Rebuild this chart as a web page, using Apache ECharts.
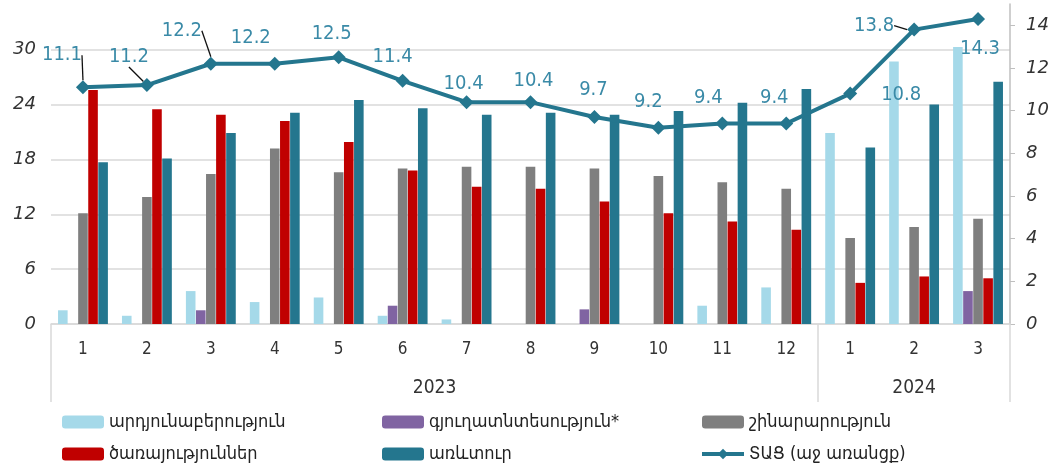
<!DOCTYPE html>
<html>
<head>
<meta charset="utf-8">
<script src="https://cdn.jsdelivr.net/npm/echarts@6/dist/echarts.min.js"></script>
<style>
  html, body { margin: 0; padding: 0; background: #fff; }
  #chart { width: 1058px; height: 469px; }
</style>
</head>
<body>
<div id="chart"></div>
<script>
// months, two years
const months = ['1', '2', '3', '4', '5', '6', '7', '8', '9', '10', '11', '12', '1', '2', '3'];
const years = ['2023', '2024'];

// bars, left axis
const industry = [1.5, 0.9, 3.6, 2.4, 2.9, 0.9, 0.5, null, null, null, 2.0, 4.0, 20.9, 28.7, 30.3];
const agriculture = [null, null, 1.5, null, null, 2.0, null, null, 1.6, null, null, null, null, null, 3.6];
const construction = [12.1, 13.9, 16.4, 19.2, 16.6, 17.0, 17.2, 17.2, 17.0, 16.2, 15.5, 14.8, 9.4, 10.6, 11.5];
const services = [25.6, 23.5, 22.9, 22.2, 19.9, 16.8, 15.0, 14.8, 13.4, 12.1, 11.2, 10.3, 4.5, 5.2, 5.0];
const trade = [17.7, 18.1, 20.9, 23.1, 24.5, 23.6, 22.9, 23.1, 22.9, 23.3, 24.2, 25.7, 19.3, 24.0, 26.5];

// line, right axis
const gdp = [11.1, 11.2, 12.2, 12.2, 12.5, 11.4, 10.4, 10.4, 9.7, 9.2, 9.4, 9.4, 10.8, 13.8, 14.3];

const leftTicks = [0, 6, 12, 18, 24, 30];
const rightTicks = [0, 2, 4, 6, 8, 10, 12, 14];

const names = ['արդյունաբերություն', 'գյուղատնտեսություն*', 'շինարարություն', 'ծառայություններ', 'առևտուր', 'ՏԱՑ (աջ առանցք)'];

// label nudges for the line values (dx, dy) and which ones get a pointer
const nudge = [[-21, -10], [-18, -6], [-29, -11], [-24, -4], [-7, -2], [-10, -2], [-3, 4], [3, 1], [-1, -5],
  [-10, -4], [-14, -4], [-12, -4], [51, 23], [-40, 18], [2, 52]];
const pointer = [0, 1, 2, 13];

const axisFont = 'DejaVu Sans';
const narrowFont = 'DejaVu Sans Condensed';

const chart = echarts.init(document.getElementById('chart'));

const barSeries = (name, data, color) => ({
  name: name,
  type: 'bar',
  data: data,
  barGap: '5%',
  barCategoryGap: '22%',
  itemStyle: { color: color },
});

const option = {
  animation: false,
  grid: { left: 51, right: 48, top: 4, bottom: 145 },
  legend: [
    { data: [names[0], names[3]], left: 62 },
    { data: [names[1], names[4]], left: 382 },
    { data: [names[2], { name: names[5], lineStyle: { width: 4 } }], left: 700 },
  ].map(l => Object.assign(l, {
    top: 413, height: 56, orient: 'vertical', itemGap: 14, padding: 0,
    itemWidth: 42, itemHeight: 13, itemStyle: { borderWidth: 0 },
    textStyle: { fontFamily: narrowFont, fontSize: 18, color: '#222' },
  })),
  xAxis: [
    {
      type: 'category',
      data: months,
      axisLine: { lineStyle: { color: '#d9d9d9', width: 1.5 } },
      axisTick: { show: false },
      axisLabel: { color: '#333', fontFamily: narrowFont, fontSize: 17, margin: 17 },
    },
    {
      type: 'value',
      position: 'bottom',
      min: 0,
      max: 15,
      axisLine: { show: false },
      splitLine: { show: false },
      axisTick: { show: true, customValues: [0, 12, 15], length: 78, lineStyle: { color: '#d9d9d9', width: 1.5 } },
      axisLabel: {
        customValues: [6, 13.5],
        formatter: v => (v < 12 ? years[0] : years[1]),
        color: '#333', fontFamily: narrowFont, fontSize: 19, margin: 55,
      },
    },
  ],
  yAxis: [
    {
      type: 'value',
      min: 0,
      max: 35,
      axisLine: { show: false },
      axisTick: { show: false, customValues: leftTicks },
      splitLine: { lineStyle: { color: '#d9d9d9', width: 1.5 } },
      axisLabel: { customValues: leftTicks, color: '#333', fontFamily: axisFont, fontStyle: 'italic', fontSize: 18, margin: 15 },
    },
    {
      type: 'value',
      min: 0,
      max: 15,
      position: 'right',
      axisLine: { show: true, lineStyle: { color: '#bfbfbf', width: 1.5 } },
      axisTick: { show: true, customValues: rightTicks, length: 5, lineStyle: { color: '#bfbfbf' } },
      splitLine: { show: false },
      axisLabel: { customValues: rightTicks, color: '#333', fontFamily: axisFont, fontStyle: 'italic', fontSize: 18, margin: 16 },
    },
  ],
  series: [
    barSeries(names[0], industry, '#a5d9e9'),
    barSeries(names[1], agriculture, '#8064a2'),
    barSeries(names[2], construction, '#7f7f7f'),
    barSeries(names[3], services, '#c00000'),
    barSeries(names[4], trade, '#24768e'),
    {
      name: names[5],
      type: 'line',
      yAxisIndex: 1,
      z: 5,
      data: gdp.map((v, i) => ({ value: v, labelLine: { show: pointer.includes(i) } })),
      symbol: 'diamond',
      symbolSize: 14,
      lineStyle: { color: '#24768e', width: 4 },
      itemStyle: { color: '#24768e' },
      label: {
        show: true,
        position: 'top',
        color: '#3a8aa7',
        fontFamily: narrowFont,
        fontSize: 20,
      },
      labelLine: { lineStyle: { color: '#111', width: 1.3 } },
      labelLayout: p => ({ dx: nudge[p.dataIndex][0], dy: nudge[p.dataIndex][1] }),
    },
  ],
};

chart.setOption(option);
</script>
</body>
</html>
